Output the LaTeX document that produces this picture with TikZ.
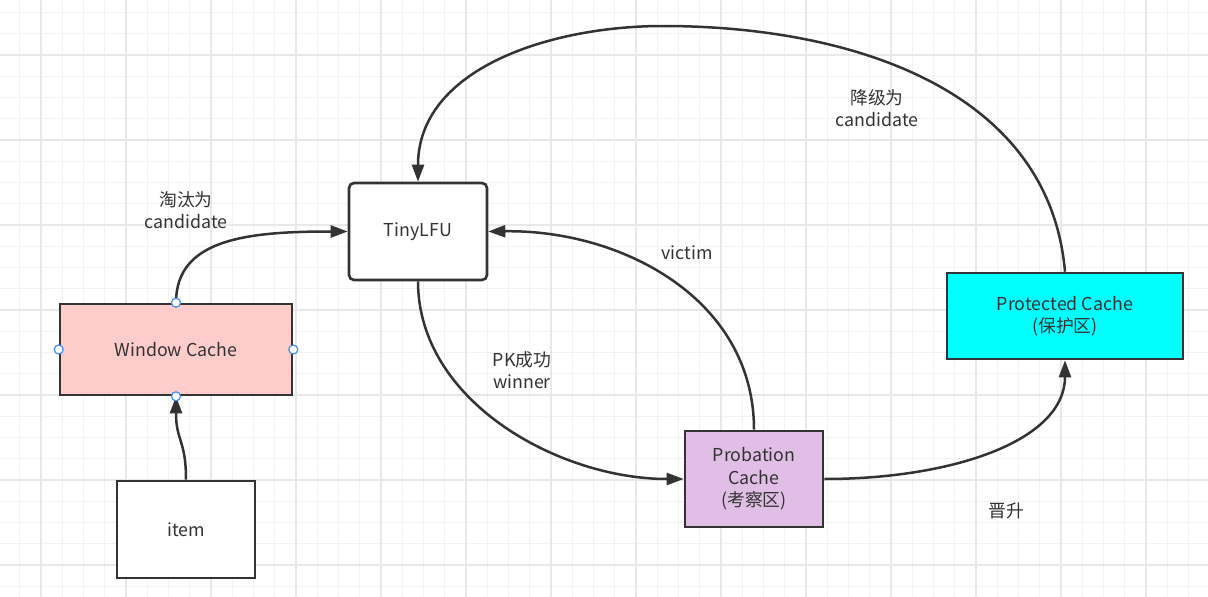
\documentclass[tikz,border=0pt]{standalone}
\usepackage{fontspec}
\setmainfont{Noto Sans CJK SC}
\usetikzlibrary{arrows.meta, positioning}
\usepackage{xcolor}
\definecolor{inkgray}{HTML}{333333}
\definecolor{gridminor}{HTML}{F2F2F2}
\definecolor{gridmajor}{HTML}{E8E8E8}
\definecolor{windowpink}{HTML}{FFCCCC}
\definecolor{probationlilac}{HTML}{E1BEE6}
\definecolor{protectedcyan}{HTML}{00FFFF}
\definecolor{portblue}{HTML}{3D8FF5}

\begin{document}
\begin{tikzpicture}[x=1pt, y=-1pt,
    cachebox/.style={draw=inkgray, line width=2.6pt, align=center, text=inkgray,
      font=\fontsize{17.8}{22.5}\selectfont, inner sep=0pt},
    flow/.style={draw=inkgray, line width=2.5pt, -{Triangle[length=17pt, width=12pt]}},
    port/.style={circle, draw=portblue, fill=white, line width=1.2pt,
      minimum size=9pt, inner sep=0pt},
    note/.style={text=inkgray, align=center, inner sep=0pt,
      font=\fontsize{17.8}{22}\selectfont}]
      \useasboundingbox (0,0) rectangle (1208,597);
      \fill[white] (0,0) rectangle (1208,597);
      % background grid
      \foreach \gx in {0,...,55}
        \draw[gridminor, line width=1pt] ({19.75+21.25*\gx},0) -- ++(0,597);
      \foreach \gy in {0,...,27}
        \draw[gridminor, line width=1pt] (0,{12.5+21.25*\gy}) -- ++(1208,0);
      \foreach \gx in {0,...,13}
        \draw[gridmajor, line width=1.3pt] ({41+85*\gx},0) -- ++(0,597);
      \foreach \gy in {0,...,6}
        \draw[gridmajor, line width=1.3pt] (0,{55+85*\gy}) -- ++(1208,0);

      % caches
      \node[cachebox, rounded corners=5pt, fill=white, minimum width=138pt, minimum height=97pt]
        (tiny) at (418,231.5) {TinyLFU};
      \node[cachebox, fill=windowpink, minimum width=232pt, minimum height=91pt]
        (window) at (176,349.5) {Window Cache};
      \node[cachebox, fill=white, minimum width=138pt, minimum height=97pt]
        (item) at (186,529.5) {item};
      \node[cachebox, fill=probationlilac, minimum width=138pt, minimum height=96pt]
        (probation) at (754,479) {Probation\\Cache\\(考察区)};
      \node[cachebox, fill=protectedcyan, minimum width=236pt, minimum height=86pt]
        (protected) at (1065,316) {Protected Cache\\(保护区)};
      \coordinate (arctop) at (663,26);

      % flows
      \draw[flow] (item.north) .. controls +(0,-40) and +(0,45) .. (window.south);
      \draw[flow] (window.north) .. controls +(0,-64) and +(-100,0) .. (tiny.west);
      \draw[flow] (tiny.south) .. controls +(0,120) and +(-125,0) .. (probation.west);
      \draw[flow] (probation.north) .. controls +(0,-131) and +(133,-2) .. (tiny.east);
      \draw[flow] (probation.east) .. controls +(127,0) and +(0,81) .. (protected.south);
      \draw[flow] (protected.north) .. controls +(-16,-184) and +(185,0) .. (arctop)
        .. controls +(-113,0) and +(0,-113) .. (tiny.north);

      % selection handles
      \foreach \side in {north,south,east,west}
        \node[port] (window-\side) at (window.\side) {};

      % labels
      \node[note] (evictlbl) at (186,210) {淘汰为\\candidate};
      \node[note] (demotelbl) at (877,108) {降级为\\candidate};
      \node[note] (victimlbl) at (687,253) {victim};
      \node[note] (winnerlbl) at (522,370) {PK成功\\winner};
      \node[note] (promotelbl) at (1006,511) {晋升};
    \end{tikzpicture}
\end{document}
